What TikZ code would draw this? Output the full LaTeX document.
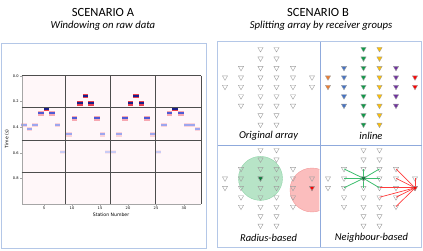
\documentclass[tikz,border=0pt]{standalone}
\usepackage{fontspec}
\setmainfont{Carlito}
\newfontfamily\plotfont{DejaVu Sans}
\definecolor{frameblue}{HTML}{B4C7E7}
\definecolor{divblue}{HTML}{8FAADC}
\definecolor{plotbg}{HTML}{FFF7F9}
\definecolor{gridc}{HTML}{4D4D4D}
\definecolor{spine}{HTML}{A6A6A6}
\definecolor{rA}{HTML}{E8404F}
\definecolor{bA}{HTML}{1B1F8A}
\definecolor{rB}{HTML}{F7A8B2}
\definecolor{bB}{HTML}{4F5BD5}
\definecolor{rC}{HTML}{FBD3DA}
\definecolor{bC}{HTML}{9EA6EE}
\definecolor{rD}{HTML}{FDE6EB}
\definecolor{bD}{HTML}{C9CCF5}
\definecolor{triorange}{HTML}{ED7D31}
\definecolor{triblue}{HTML}{4472C4}
\definecolor{trigreen}{HTML}{0E9A48}
\definecolor{trigold}{HTML}{FFC000}
\definecolor{tripurple}{HTML}{7030A0}
\definecolor{trired}{HTML}{FF0000}
\definecolor{zonegreen}{HTML}{B7E4C7}
\definecolor{zonegreenline}{HTML}{8FD3A8}
\definecolor{zonered}{HTML}{FBBDBD}
\definecolor{zoneredline}{HTML}{F49A9A}
\definecolor{linkgreen}{HTML}{3DBE6E}
\definecolor{linkred}{HTML}{FF3B3B}
\usetikzlibrary{shapes.geometric}
\tikzset{
  tri/.style={regular polygon,regular polygon sides=3,shape border rotate=180,
              draw=gray!75,line width=0.4pt,minimum size=6pt,inner sep=0pt},
  frame/.style={draw=frameblue,line width=0.8pt},
  divider/.style={draw=divblue,line width=0.8pt},
  grid/.style={draw=gridc,line width=0.9pt},
  spineline/.style={draw=spine,line width=0.4pt},
  ttl/.style={font=\fontsize{12.5}{13}\selectfont},
  sub/.style={font=\fontsize{10.7}{11}\selectfont\itshape},
  lbl/.style={font=\fontsize{10.5}{11}\selectfont\itshape},
  ticklbl/.style={font=\plotfont\fontsize{3.6}{4}\selectfont,inner sep=0.5pt},
  axlbl/.style={font=\plotfont\fontsize{4.6}{5}\selectfont,inner sep=0.5pt},
  glink/.style={draw=linkgreen,line width=0.8pt},
  rlink/.style={draw=linkred,line width=0.7pt}
}
\begin{document}
\begin{tikzpicture}[x=1pt,y=-1pt]
  \useasboundingbox (0,0) rectangle (423,251);
  % titles
  \node[ttl] (titleA) at (103,12) {SCENARIO A};
  \node[sub] (subA) at (103,25.5) {Windowing on raw data};
  \node[ttl] (titleB) at (318,12.5) {SCENARIO B};
  \node[sub] (subB) at (321,25.5) {Splitting array by receiver groups};
  % scenario A panel
  \draw[frame] (1,43.3) rectangle (206.7,248.3);
  \fill[plotbg] (21.7,75.7) rectangle (201.3,204.3);
  \foreach \t/\k [count=\s] in {125/C,129/C,125/C,113.3/B,109/A,113.3/B,125/C,152/D,
      134.3/C,118.3/B,103.3/A,96/A,103.3/A,118.3/B,134.3/C,152/D,
      152/D,134.3/C,118.3/B,103.3/A,96/A,103.3/A,118.3/B,134.3/C,
      152/D,125/C,113.3/B,109/A,113.3/B,125/C,125/C,129/C}{
    \fill[fill=r\k] (15.6+5.6*\s,\t-2.4) rectangle (21.2+5.6*\s,\t+2.4);
    \fill[fill=b\k] (15.6+5.6*\s,\t-0.8) rectangle (21.2+5.6*\s,\t+0.8);
  }
  \draw[spineline] (21.7,75.7) -- (21.7,204.3) -- (201.3,204.3);
  \foreach \x in {65.7,110.7,155.7,201.3}
    \draw[grid] (\x,75.7) -- (\x,204.3);
  \foreach \y in {75.7,107.7,140,172.6}
    \draw[grid] (21.7,\y) -- (201.3,\y);
  \foreach \v [count=\i from 0] in {0.0,0.2,0.4,0.6,0.8}{
    \draw[spineline] (21.7,76+25.6*\i) -- (19.7,76+25.6*\i);
    \node[ticklbl,anchor=east] (yt\i) at (19.3,76+25.6*\i) {\v};
  }
  \foreach \v [count=\i] in {5,10,15,20,25,30}{
    \draw[spineline] (16+28*\i,204.3) -- (16+28*\i,206.3);
    \node[ticklbl,anchor=north] (xt\i) at (16+28*\i,206.6) {\v};
  }
  \node[axlbl] (xlab) at (111,215) {Station Number};
  \node[axlbl,rotate=90] (ylab) at (7,139) {Time (s)};
  % scenario B panel
  \draw[frame] (217.5,41.7) rectangle (421.5,247);
  \draw[divider] (320,41.7) -- (320,247);
  \draw[divider] (217.5,145) -- (421.5,145);
  % zones of the radius-based split
  \fill[zonegreen,draw=zonegreenline] (260.5,178.4) circle[radius=22pt];
  \begin{scope}
    \clip (217.5,145) rectangle (319.4,247);
    \fill[zonered,draw=zoneredline] (312,190) circle[radius=22pt];
  \end{scope}
  % receiver triangles
  \foreach \c/\x/\a/\b/\col in {1/225/4/5/triorange,2/241/3/7/triblue,3/260.5/1/9/trigreen,
      4/276.5/1/9/trigold,5/293/3/7/tripurple,6/312/4/5/trired}{
    \foreach \r in {\a,...,\b}{
      \node[tri] (o\c\r) at (\x,49+9.45*\r-9.45) {};
      \node[tri,fill=\col] (i\c\r) at (\x+103,49+9.45*\r-9.45) {};
      \node[tri] (r\c\r) at (\x,150+9.45*\r-9.45) {};
      \node[tri] (n\c\r) at (\x+103,150+9.45*\r-9.45) {};
    }
  }
  \node[tri,fill=trigreen!80!black] at (r34) {};
  \node[tri,fill=trired] at (r65) {};
  % neighbour links
  \foreach \m in {23,24,25,33,35,43,44,45}
    \draw[glink] (n34.center) -- (n\m.center);
  \foreach \m in {64,53,54,55,56,57,45,46}
    \draw[rlink] (n65.center) -- (n\m.center);
  \node[tri,fill=trigreen!80!black] at (n34) {};
  \node[tri,fill=trired] at (n65) {};
  % quadrant labels
  \node[lbl] (lorig) at (268.5,136) {Original array};
  \node[lbl] (linl) at (371,136) {inline};
  \node[lbl] (lrad) at (268.5,238) {Radius-based};
  \node[lbl] (lngb) at (371.5,238) {Neighbour-based};
\end{tikzpicture}
\end{document}
